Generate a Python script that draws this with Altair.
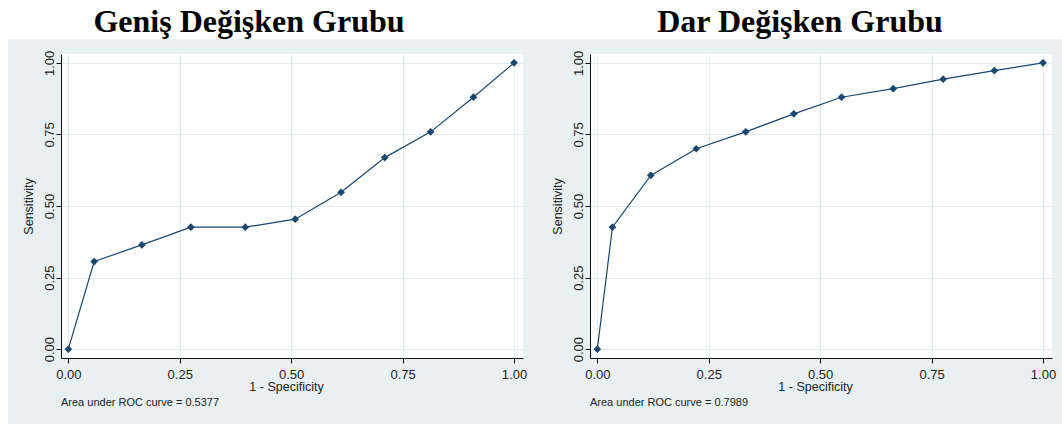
import altair as alt
import pandas as pd

# ROC curve coordinates (1 - specificity, sensitivity) for each variable group
fpr_wide = [0.0, 0.058, 0.165, 0.275, 0.397, 0.509, 0.612, 0.710, 0.813, 0.909, 1.0]
tpr_wide = [0.0, 0.306, 0.364, 0.426, 0.426, 0.454, 0.548, 0.669, 0.759, 0.880, 1.0]
fpr_narrow = [0.0, 0.034, 0.120, 0.222, 0.333, 0.441, 0.548, 0.664, 0.776, 0.891, 1.0]
tpr_narrow = [0.0, 0.426, 0.607, 0.700, 0.759, 0.822, 0.880, 0.910, 0.943, 0.973, 1.0]

panel_titles = ["Geniş Değişken Grubu", "Dar Değişken Grubu"]
auc_notes = ["Area under ROC curve = 0.5377", "Area under ROC curve = 0.7989"]
tick_values = [0.0, 0.25, 0.5, 0.75, 1.0]

NAVY = "#1a476f"
BG = "#e8f0f2"
W, H = 462, 304
SANS = "Liberation Sans"


def roc_panel(fpr, tpr, title, note, title_cx, first):
    df = pd.DataFrame({"fpr": fpr, "tpr": tpr, "order": range(len(fpr))})
    base = alt.Chart(df)
    one = alt.Chart(pd.DataFrame({"title": [title], "note": [note]}))

    x = alt.X(
        "fpr:Q",
        scale=alt.Scale(domain=[-0.0164, 1.0202], nice=False, zero=False),
        axis=alt.Axis(
            values=tick_values, format=".2f", title="1 - Specificity",
            labelFlush=False, labelPadding=5, titleX=225, titleY=32,
            titleAlign="center", titleBaseline="alphabetic",
        ),
    )
    y = alt.Y(
        "tpr:Q",
        scale=alt.Scale(domain=[-0.031, 1.031], nice=False, zero=False),
        axis=alt.Axis(
            values=tick_values, format=".2f", title="Sensitivity",
            labelAngle=270, labelAlign="center", labelBaseline="alphabetic",
            labelPadding=3, labelFlush=False,
            titleAngle=270, titleX=-33, titleY=152,
            titleAlign="center", titleBaseline="middle",
        ),
    )

    layers = []
    if first:
        # white page strips outside the grey graph region
        layers.append(
            one.mark_rect(color="white").encode(
                x=alt.value(-61), x2=alt.value(1001),
                y=alt.value(-54), y2=alt.value(-15),
            )
        )
        layers.append(
            one.mark_rect(color="white").encode(
                x=alt.value(-61), x2=alt.value(-53),
                y=alt.value(-54), y2=alt.value(370),
            )
        )

    line = base.mark_line(color=NAVY, strokeWidth=1.2).encode(
        x=x, y=y, order="order:Q"
    )
    pts = base.mark_point(
        shape="diamond", filled=True, size=60, color=NAVY, opacity=1
    ).encode(x=x, y=y)

    head = one.mark_text(
        font="Liberation Serif", fontSize=32, fontWeight="bold",
        color="black", align="center", baseline="alphabetic",
    ).encode(x=alt.value(title_cx), y=alt.value(-22), text="title:N")

    foot = one.mark_text(
        font=SANS, fontSize=11, color="#222", align="left",
        baseline="alphabetic",
    ).encode(x=alt.value(0), y=alt.value(352), text="note:N")

    layers += [line, pts, head, foot]
    return alt.layer(*layers).properties(width=W, height=H)


left = roc_panel(fpr_wide, tpr_wide, panel_titles[0], auc_notes[0], 188, True)
right = roc_panel(fpr_narrow, tpr_narrow, panel_titles[1], auc_notes[1], 210, False)

chart = (
    alt.hconcat(left, right, spacing=67, bounds="flush")
    .properties(padding=0, background=BG)
    .configure_view(fill="white", stroke=None)
    .configure_axis(
        domainColor="#111", domainWidth=1, tickColor="#111", tickSize=5,
        gridColor="#e3ecef", gridWidth=1,
        labelFont=SANS, labelFontSize=13, labelColor="#222",
        titleFont=SANS, titleFontSize=12.5, titleFontWeight="normal",
        titleColor="#222",
    )
)

chart.save("out.html", embed_options={"renderer": "svg", "actions": False})
